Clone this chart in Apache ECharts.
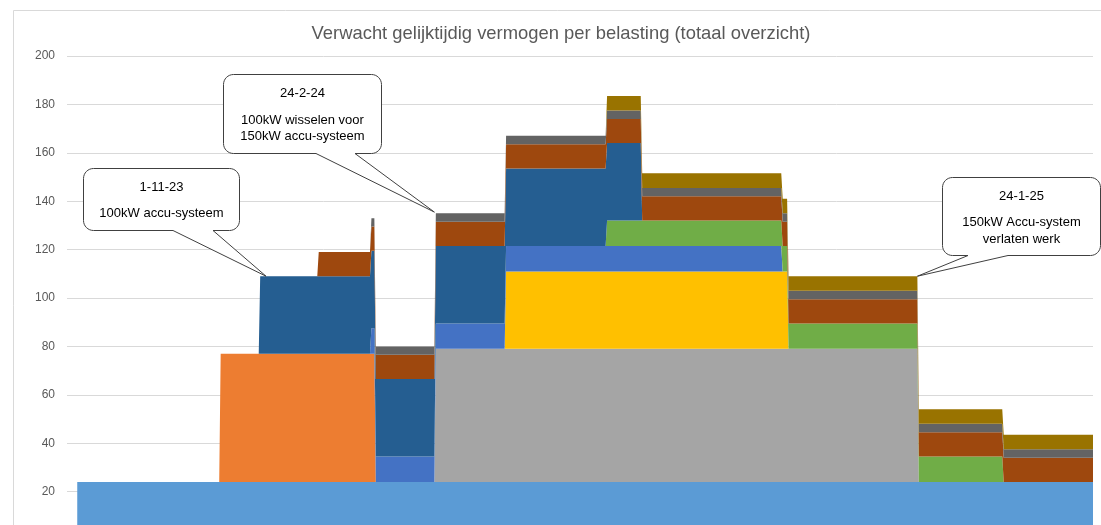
<!DOCTYPE html>
<html>
<head>
<meta charset="utf-8">
<script src="https://cdn.jsdelivr.net/npm/echarts@6/dist/echarts.min.js"></script>
<style>
html,body{margin:0;padding:0;background:#fff;overflow:hidden;width:1101px;height:525px}
#chart{width:1101px;height:600px}
</style>
</head>
<body>
<div id="chart"></div>
<script>
// ---- DATA ----
// Periods with a constant load mix (first day / last day)
const segmentStart = ['2023-06-29','2023-10-05','2023-11-01','2023-12-11','2024-01-16','2024-01-19','2024-02-29','2024-04-17','2024-06-25','2024-07-19','2024-10-23','2024-10-27','2025-01-24','2025-03-23'];
const segmentEnd   = ['2023-10-04','2023-10-31','2023-12-10','2024-01-15','2024-01-18','2024-02-28','2024-04-16','2024-06-24','2024-07-18','2024-10-22','2024-10-26','2025-01-23','2025-03-22','2025-05-23'];

// Power (kW) of each load per period
const belasting1  = [24,24,24,24,24,24,24,24,24,24,24,24,24,24];
const belasting2  = [0,53,53,53,53,0,0,0,0,0,0,0,0,0];
const belasting3  = [0,0,0,0,0,0,55,55,55,55,55,55,0,0];
const belasting4  = [0,0,0,0,0,0,0,32,32,32,32,0,0,0];
const belasting5  = [0,0,0,0,10.5,10.5,10.5,10.5,10.5,10.5,0,0,0,0];
const belasting6  = [0,0,0,0,0,0,0,0,10.5,10.5,10.5,10.5,10.5,0];
const belasting7  = [0,0,32,32,32,32,32,32,32,0,0,0,0,0];
const belasting8  = [0,0,0,10,10,10,10,10,10,10,10,10,10,10];
const belasting9  = [0,0,0,0,3.5,3.5,3.5,3.5,3.5,3.5,3.5,3.5,3.5,3.5];
const belasting10 = [0,0,0,0,0,0,0,0,6,6,6,6,6,6];

const seriesNames = ['Belasting 1','Belasting 2','Belasting 3','Belasting 4','Belasting 5','Belasting 6','Belasting 7','Belasting 8','Belasting 9','Belasting 10'];
const seriesValues = [belasting1,belasting2,belasting3,belasting4,belasting5,belasting6,belasting7,belasting8,belasting9,belasting10];

const yTicks = [0,20,40,60,80,100,120,140,160,180,200];
const xRange = ['2023-06-22','2025-05-23'];

// Callouts: text lines and the point they refer to [date, kW]
const calloutText1 = ['1-11-23','100kW accu-systeem'];
const calloutText2 = ['24-2-24','100kW wisselen voor','150kW accu-systeem'];
const calloutText3 = ['24-1-25','150kW Accu-system','verlaten werk'];
const calloutTips  = [['2023-11-05',109],['2024-02-28',135.5],['2025-01-23',109]];

// ---- STYLE ----
const colors = ['#5B9BD5','#ED7D31','#A5A5A5','#FFC000','#4472C4','#70AD47','#255E91','#9E480E','#636363','#997300'];
const FONT = 'Liberation Sans, Arial, sans-serif';

function toTime(s){const p=s.split('-').map(Number);return new Date(p[0],p[1]-1,p[2]).getTime();}
function buildData(vals){
  const out=[];
  vals.forEach(function(v,i){
    out.push([toTime(segmentStart[i]),v]);
    if(segmentEnd[i]!==segmentStart[i]) out.push([toTime(segmentEnd[i]),v]);
  });
  return out;
}

const chart = echarts.init(document.getElementById('chart'), null, {renderer:'canvas'});

const series = seriesValues.map(function(vals,i){
  return {
    name: seriesNames[i],
    type: 'line',
    stack: 'totaal',
    data: buildData(vals),
    showSymbol: false,
    symbol: 'none',
    lineStyle: {width: 0, opacity: 0},
    areaStyle: {color: colors[i], opacity: 1},
    itemStyle: {color: colors[i]},
    silent: true,
    z: 2
  };
});

chart.setOption({
  animation: false,
  backgroundColor: '#ffffff',
  title: {
    text: 'Verwacht gelijktijdig vermogen per belasting (totaal overzicht)',
    left: 556, top: 20, textAlign: 'center',
    textStyle: {color: '#595959', fontSize: 18.4, fontWeight: 'normal', fontFamily: FONT}
  },
  grid: {left: 67, right: 8, top: 56, bottom: 60, containLabel: false},
  xAxis: {
    type: 'time',
    min: toTime(xRange[0]), max: toTime(xRange[1]),
    axisLine: {show: false}, axisTick: {show: false},
    axisLabel: {show: false}, splitLine: {show: false}
  },
  yAxis: {
    type: 'value',
    min: yTicks[0], max: yTicks[yTicks.length-1], interval: yTicks[1]-yTicks[0],
    axisLine: {show: false}, axisTick: {show: false},
    axisLabel: {color: '#595959', fontSize: 12, fontFamily: FONT, margin: 12,
      formatter: function(v){ return v === 0 ? '' : String(v); }},
    splitLine: {lineStyle: {color: '#d9d9d9', width: 1}}
  },
  series: series
});

// ---- Callouts ----
function calloutPoints(x,y,w,h,r,b1,b2,tip){
  const pts=[];
  function arc(cx,cy,a0,a1){
    const n=8;
    for(let k=0;k<=n;k++){
      const a=a0+(a1-a0)*k/n;
      pts.push([cx+r*Math.cos(a), cy+r*Math.sin(a)]);
    }
  }
  const P=Math.PI;
  arc(x+r, y+r, P, 1.5*P);
  arc(x+w-r, y+r, 1.5*P, 2*P);
  arc(x+w-r, y+h-r, 0, 0.5*P);
  pts.push([b2, y+h]);
  pts.push(tip);
  pts.push([b1, y+h]);
  arc(x+r, y+h-r, 0.5*P, P);
  return pts;
}

const boxes = [
  {x:83.5, y:168.5, w:156, h:62, b1:173, b2:213, text:calloutText1, lineY:[187,213]},
  {x:223.5, y:74.5, w:158, h:79, b1:316, b2:355, text:calloutText2, lineY:[93,120,136]},
  {x:942.5, y:177.5, w:158, h:78, b1:968, b2:1008, text:calloutText3, lineY:[196,222,239]}
];

const graphics = [{
  type:'rect', silent:true, z:0,
  shape:{x:13.5, y:10.5, width:1200, height:700},
  style:{fill:'none', stroke:'#d9d9d9', lineWidth:1}
}];

boxes.forEach(function(b,i){
  const tipT = calloutTips[i];
  const tip = chart.convertToPixel({gridIndex:0},[toTime(tipT[0]), tipT[1]]);
  graphics.push({
    type:'polygon', silent:true, z:10,
    shape:{points: calloutPoints(b.x,b.y,b.w,b.h,10,b.b1,b.b2,tip)},
    style:{fill:'#ffffff', stroke:'#404040', lineWidth:1}
  });
  b.text.forEach(function(t,j){
    graphics.push({
      type:'text', silent:true, z:11,
      x: b.x + b.w/2, y: b.lineY[j],
      style:{text:t, fill:'#000000', font:'13px '+FONT, align:'center', verticalAlign:'middle'}
    });
  });
});

chart.setOption({graphic: graphics});
</script>
</body>
</html>
